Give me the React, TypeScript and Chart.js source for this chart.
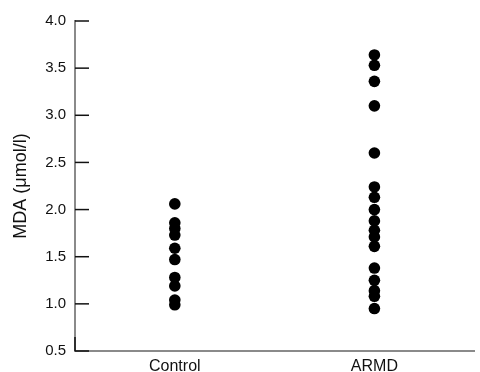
import React, { useEffect, useRef } from 'react';
import { Chart, registerables } from 'chart.js';

Chart.register(...registerables);

const categories = ['Control', 'ARMD'];
const controlValues = [2.06, 1.86, 1.8, 1.73, 1.59, 1.47, 1.28, 1.19, 1.04, 0.99];
const armdValues = [3.64, 3.53, 3.36, 3.1, 2.6, 2.24, 2.13, 2.0, 1.88, 1.78, 1.71, 1.61, 1.38, 1.25, 1.14, 1.08, 0.95];
const yTickValues = [0.5, 1.0, 1.5, 2.0, 2.5, 3.0, 3.5, 4.0];
const yAxisTitle = 'MDA (μmol/l)';

const FONT = '"Liberation Sans", Arial, Helvetica, sans-serif';

const innerTicks = {
  id: 'innerTicks',
  afterDatasetsDraw(chart: any) {
    const { ctx, chartArea, scales } = chart;
    const y = scales.y;
    ctx.save();
    ctx.strokeStyle = '#111';
    ctx.lineWidth = 1.5;
    for (const v of yTickValues) {
      const py = y.getPixelForValue(v);
      ctx.beginPath();
      ctx.moveTo(chartArea.left, py);
      ctx.lineTo(chartArea.left + 14, py);
      ctx.stroke();
    }
    ctx.beginPath();
    ctx.moveTo(chartArea.left, chartArea.bottom);
    ctx.lineTo(chartArea.left, chartArea.bottom - 14);
    ctx.stroke();
    ctx.restore();
  },
};

export default function App() {
  const ref = useRef<HTMLCanvasElement>(null);
  useEffect(() => {
    document.body.style.margin = '0';
    const toPoints = (cat: string, vals: number[]) => vals.map((v) => ({ x: cat, y: v }));
    const chart = new Chart(ref.current!, {
      type: 'scatter',
      data: {
        labels: categories,
        datasets: [
          {
            data: [...toPoints(categories[0], controlValues), ...toPoints(categories[1], armdValues)] as any,
            backgroundColor: '#000',
            borderWidth: 0,
            pointRadius: 5.8,
            pointHoverRadius: 5.8,
          },
        ],
      },
      options: {
        animation: false,
        responsive: false,
        maintainAspectRatio: false,
        layout: { padding: { top: 21, right: 0, left: 0, bottom: 0 } },
        plugins: { legend: { display: false }, tooltip: { enabled: false } },
        scales: {
          x: {
            type: 'category',
            labels: categories,
            offset: true,
            grid: { display: false, drawTicks: false },
            border: { display: true, color: '#8a8a8a', width: 2 },
            ticks: { color: '#111', font: { family: FONT, size: 16 }, padding: 6 },
            afterFit: (s: any) => { s.height = 21; },
          },
          y: {
            min: 0.5,
            max: 4.0,
            afterBuildTicks: (s: any) => { s.ticks = yTickValues.map((v) => ({ value: v })); },
            grid: { display: false, drawTicks: false },
            border: { display: true, color: '#8a8a8a', width: 2 },
            ticks: {
              color: '#111',
              font: { family: FONT, size: 15 },
              padding: 9,
              callback: (v: any) => Number(v).toFixed(1),
            },
            title: {
              display: true,
              text: yAxisTitle,
              color: '#111',
              font: { family: FONT, size: 18 },
              padding: { top: 10, bottom: 0 },
            },
            afterFit: (s: any) => { s.width = 75; },
          },
        },
      },
      plugins: [innerTicks],
    });
    return () => chart.destroy();
  }, []);
  return (
    <div style={{ width: 480, height: 372 }}>
      <canvas ref={ref} width={480} height={372} />
    </div>
  );
}
